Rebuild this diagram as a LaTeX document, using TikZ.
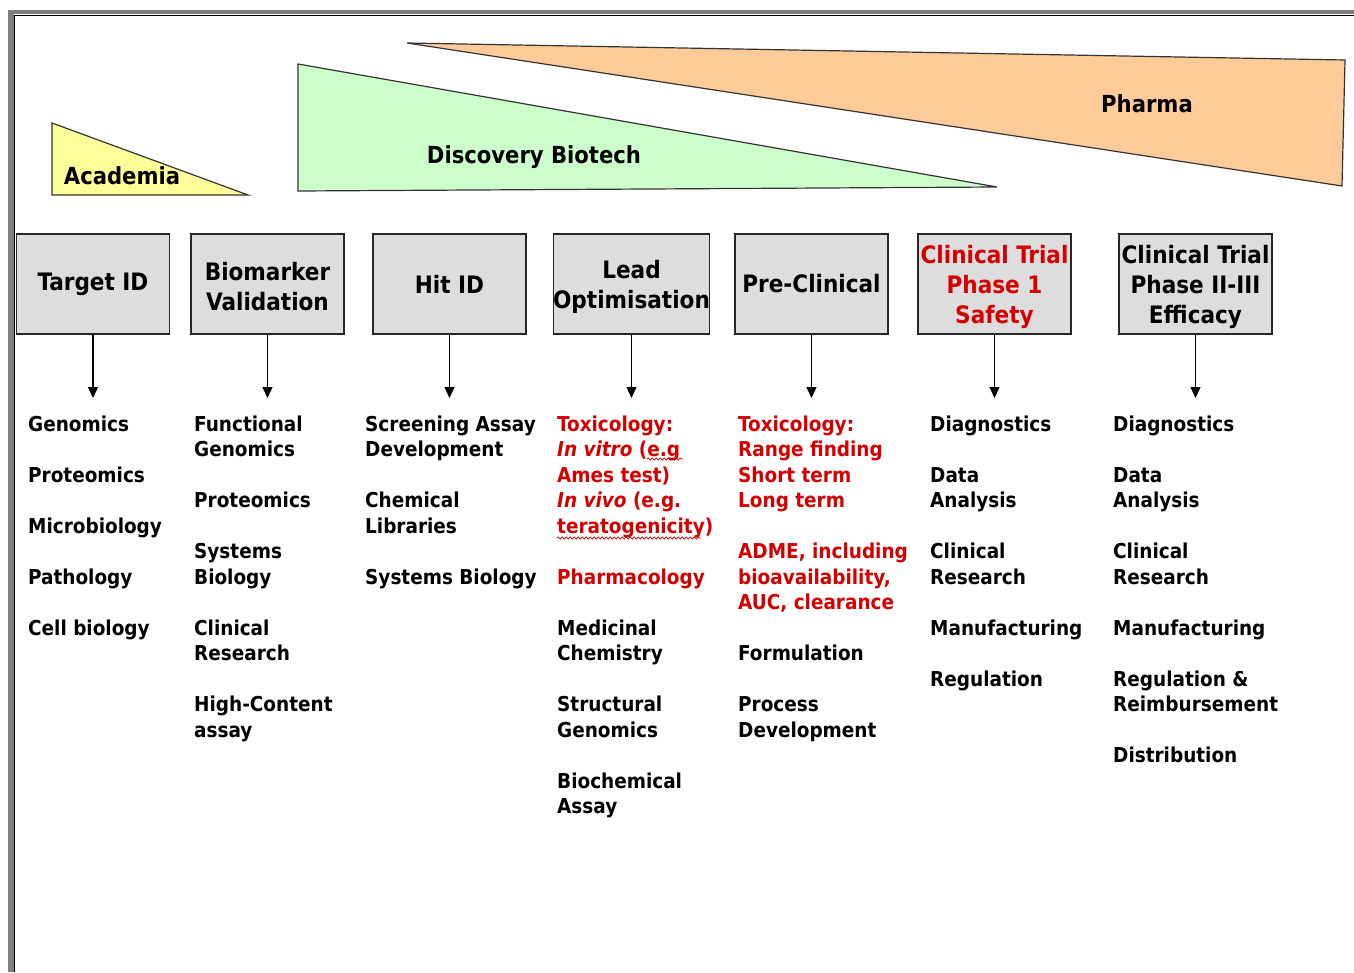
\documentclass[tikz,border=0pt]{standalone}
\usepackage{fontspec}
\setmainfont{DejaVu Sans Condensed}
\usetikzlibrary{arrows.meta,decorations.pathmorphing}
\definecolor{tred}{HTML}{D40000}
\definecolor{academia}{HTML}{FFFF99}
\definecolor{biotech}{HTML}{CCFFCC}
\definecolor{pharma}{HTML}{FFCC99}
\definecolor{stagefill}{HTML}{DDDDDD}
\definecolor{framegrey}{HTML}{7F7F7F}
\newcommand\rd[1]{\textcolor{tred}{#1}}
\newcommand\gp{\\[25.5pt]}
\newcommand\dn{\rule{0pt}{24pt}}
\begin{document}
\begin{tikzpicture}[x=1pt,y=-1pt,
  stage/.style={draw=black!85, line width=1.2pt, fill=stagefill, minimum width=153pt, minimum height=100pt, inner sep=0pt, align=center, font=\bfseries\fontsize{24}{30}\selectfont},
  items/.style={anchor=north west, inner sep=0pt, align=left, font=\bfseries\fontsize{20.5}{25.5}\selectfont},
  flow/.style={line width=1.3pt, -{Triangle[width=10pt,length=11pt]}},
  band/.style={draw=black!80, line width=1.2pt, line join=miter},
  bandlabel/.style={inner sep=0pt, font=\bfseries\fontsize{23.5}{28}\selectfont},
  squiggle/.style={tred, line width=0.7pt, decorate, decoration={snake, amplitude=1.2pt, segment length=4pt}}]
\useasboundingbox (0,0) rectangle (1354,972);
\fill[white] (0,0) rectangle (1354,972);
% frame
\fill[framegrey] (8,10) rectangle (13.5,972);
\fill[framegrey] (8,10) rectangle (1354,14);
\draw[line width=1.3pt] (14.5,972) -- (14.5,15.5) -- (1354,15.5);
% market bands
\draw[band, fill=pharma] (407,43) -- (1345,60) -- (1342,186) -- cycle;
\draw[band, fill=biotech] (298,64) -- (298,191) -- (997,187) -- cycle;
\draw[band, fill=academia] (52,123) -- (52,195) -- (248,195) -- cycle;
\node[bandlabel] (lacad) at (122,176) {Academia};
\node[bandlabel] (lbio) at (534,157) {Discovery Biotech};
\node[bandlabel] (lpharma) at (1147,104) {Pharma};
% stages
\node[stage] (b1) at (93,284) {Target ID};
\node[stage] (b2) at (267.5,284) {\dn Biomarker\\Validation};
\node[stage] (b3) at (449.5,284) {Hit ID};
\node[stage] (b4) at (631.5,284) {\dn Lead\\Optimisation};
\node[stage] (b5) at (811.5,284) {Pre-Clinical};
\node[stage, text=tred] (b6) at (994.5,284) {\dn Clinical Trial\\Phase 1\\Safety};
\node[stage] (b7) at (1195.5,284) {\dn Clinical Trial\\Phase II-III\\Efficacy};
\foreach \i in {1,...,7}{
  \coordinate (e\i) at (b\i.south |- 0,398);
  \draw[flow] (b\i.south) -- (e\i);
}
% item lists
\node[items] (c1) at (28,413.15) {\strut Genomics\gp Proteomics\gp Microbiology\gp Pathology\gp Cell biology};
\node[items] (c2) at (194,413.15) {\strut Functional\\Genomics\gp Proteomics\gp Systems\\Biology\gp Clinical\\Research\gp High-Content\\assay};
\node[items] (c3) at (365,413.15) {\strut Screening Assay\\Development\gp Chemical\\Libraries\gp Systems Biology};
\node[items] (c4) at (557,413.15) {\strut\rd{Toxicology:}\\\rd{\textit{In vitro} (e.g}\\\rd{Ames test)}\\\rd{\textit{In vivo} (e.g.}\\\rd{teratogenicity)}\gp \rd{Pharmacology}\gp Medicinal\\Chemistry\gp Structural\\Genomics\gp Biochemical\\Assay};
\node[items] (c5) at (738,413.15) {\strut\rd{Toxicology:}\\\rd{Range finding}\\\rd{Short term}\\\rd{Long term}\gp \rd{ADME, including}\\\rd{bioavailability,}\\\rd{AUC, clearance}\gp Formulation\gp Process\\Development};
\node[items] (c6) at (930,413.15) {\strut Diagnostics\gp Data\\Analysis\gp Clinical\\Research\gp Manufacturing\gp Regulation};
\node[items] (c7) at (1113,413.15) {\strut Diagnostics\gp Data\\Analysis\gp Clinical\\Research\gp Manufacturing\gp Regulation \&\\Reimbursement\gp Distribution};
% spelling squiggles
\draw[squiggle] (647,459) -- (683,459);
\draw[squiggle] (557,538) -- (701,538);
\end{tikzpicture}
\end{document}
